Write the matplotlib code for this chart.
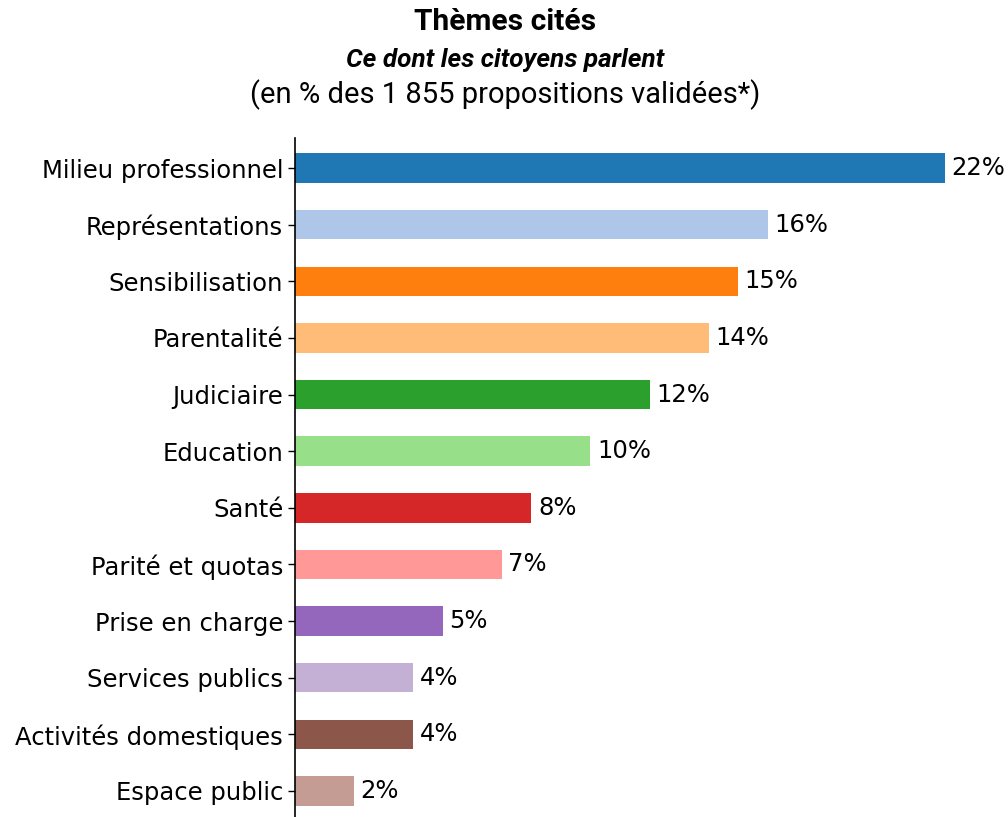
import matplotlib
matplotlib.use("Agg")
import matplotlib.pyplot as plt

# Data
themes = ["Milieu professionnel", "Représentations", "Sensibilisation", "Parentalité",
          "Judiciaire", "Education", "Santé", "Parité et quotas", "Prise en charge",
          "Services publics", "Activités domestiques", "Espace public"]
percent = [22, 16, 15, 14, 12, 10, 8, 7, 5, 4, 4, 2]
colors = ["#1f77b4", "#aec7e8", "#ff7f0e", "#ffbb78", "#2ca02c", "#98df8a",
          "#d62728", "#ff9896", "#9467bd", "#c5b0d5", "#8c564b", "#c49c94"]

fig = plt.figure(figsize=(10.08, 8.17), dpi=100)
ax = fig.add_axes([295/1008, 0, 1 - 295/1008, (817 - 138)/817])

y = list(range(len(themes)))
ax.barh(y, percent, height=0.52, color=colors)
for yi, p in zip(y, percent):
    ax.text(p + 0.22, yi, f"{p}%", va="center", ha="left", fontsize=17.5, family="DejaVu Sans")

ax.set_yticks(y)
ax.set_yticklabels(themes, fontsize=17.5, family="DejaVu Sans")
ax.set_ylim(11.46, -0.53)
ax.set_xlim(0, 24.13)
ax.set_xticks([])
for s in ["top", "right", "bottom"]:
    ax.spines[s].set_visible(False)
ax.spines["left"].set_linewidth(1.2)
ax.tick_params(axis="y", length=5, width=1)

# Titles
fig.text(0.501, 1 - 22/817, "Thèmes cités", ha="center", va="center",
         fontsize=21.5, fontweight="bold", family="Roboto")
fig.text(0.501, 1 - 60/817, "Ce dont les citoyens parlent", ha="center", va="center",
         fontsize=18.8, fontweight="bold", fontstyle="italic", family="Roboto")
fig.text(0.501, 1 - 95/817, "(en % des 1 855 propositions validées*)", ha="center", va="center",
         fontsize=21, family="Roboto")

fig.savefig("out.png", dpi=100)
